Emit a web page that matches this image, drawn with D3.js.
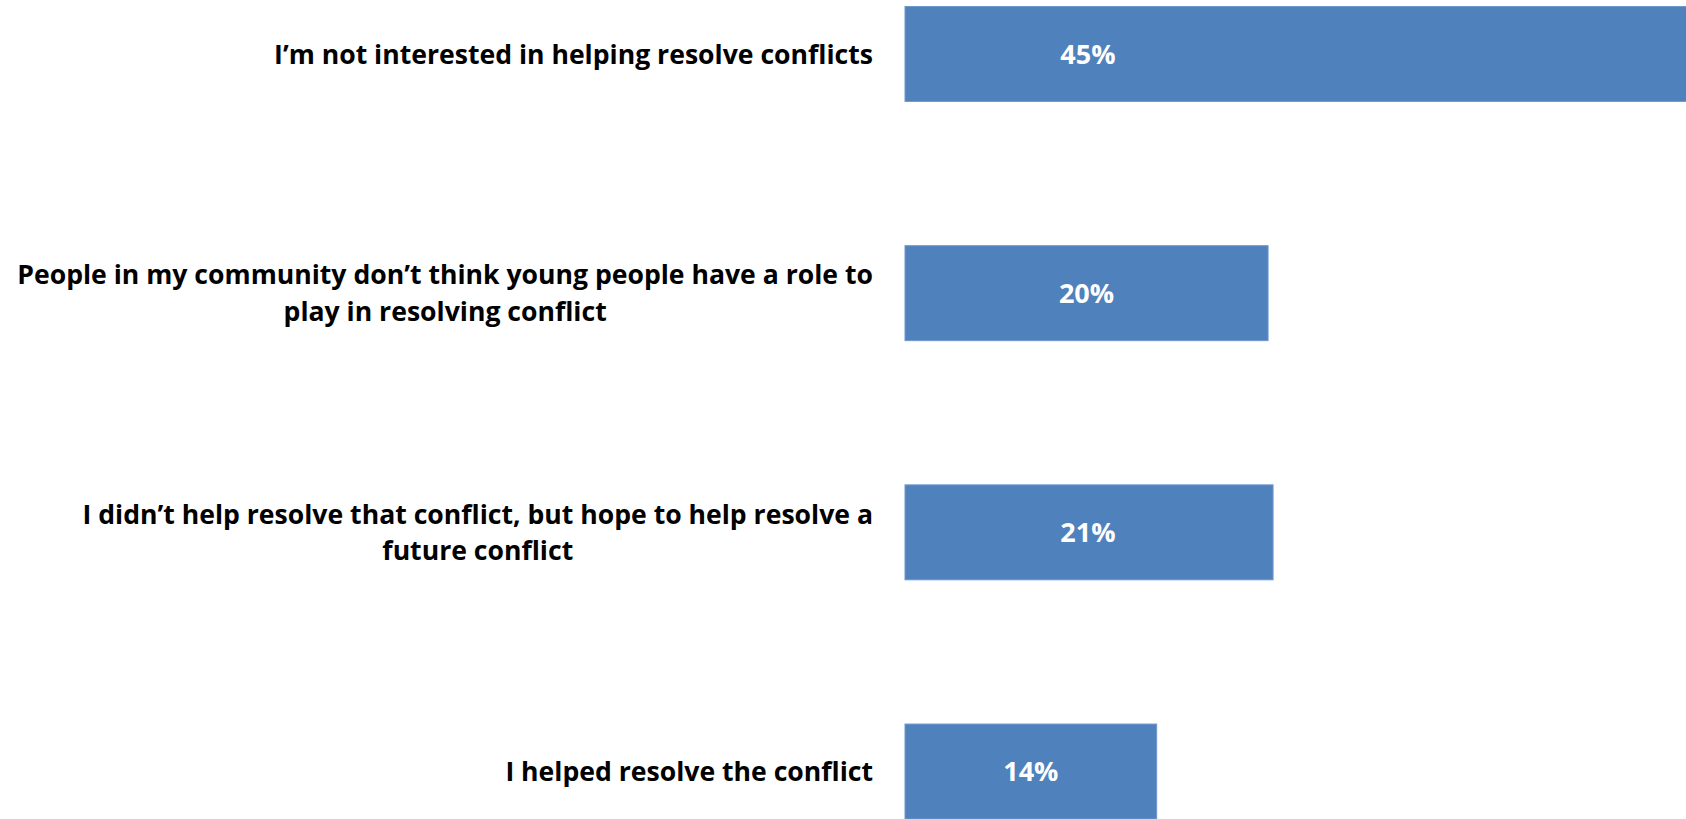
<!DOCTYPE html>
<html>
<head>
<meta charset="utf-8">
<script src="https://cdn.jsdelivr.net/npm/d3@7"></script>
<style>
  html, body { margin: 0; padding: 0; background: #ffffff; overflow: hidden; }
  svg { display: block; }
</style>
</head>
<body>
<svg id="chart" width="1686" height="819"></svg>
<script>
// ---- data ----
const categories = [
  "I’m not interested in helping resolve conflicts",
  "People in my community don’t think young people have a role to play in resolving conflict",
  "I didn’t help resolve that conflict, but hope to help resolve a future conflict",
  "I helped resolve the conflict"
];
const categoryLines = [
  ["I’m not interested in helping resolve conflicts"],
  ["People in my community don’t think young people have a role to", "play in resolving conflict"],
  ["I didn’t help resolve that conflict, but hope to help resolve a", "future conflict"],
  ["I helped resolve the conflict"]
];
const values = [45, 20.34, 20.62, 14.1];   // percent

// ---- layout ----
const W = 1686, H = 819;
const plotLeft = 905, plotTop = 6.5, plotBottom = 819;
const axisMax = 20.5;                 // visible plot-area maximum (%)
const pxPerPct = 17.85;
const labelRight = 873;
const barColor = "#4F81BD";
const fontFam = "'Open Sans', Lato, sans-serif";

const svg = d3.select("#chart");

const x = d3.scaleLinear()
  .domain([0, axisMax])
  .range([plotLeft, plotLeft + axisMax * pxPerPct]);

const y = d3.scaleBand()
  .domain(categories)
  .range([plotTop, plotBottom])
  .paddingInner(0.603)
  .paddingOuter(0);

const fmt = d3.format(".0f");
const rows = categories.map((c, i) => ({ cat: c, lines: categoryLines[i], v: values[i] }));

// bars
svg.append("g").selectAll("rect")
  .data(rows)
  .join("rect")
  .attr("x", x(0))
  .attr("y", d => y(d.cat))
  .attr("width", d => x(d.v) - x(0))
  .attr("height", y.bandwidth())
  .attr("fill", barColor)
  .attr("stroke", "#6f98cc")
  .attr("stroke-width", 1);

// value labels (centered in the visible part of the bar)
svg.append("g").selectAll("text")
  .data(rows)
  .join("text")
  .attr("x", d => (x(0) + x(Math.min(d.v, axisMax))) / 2)
  .attr("y", d => y(d.cat) + y.bandwidth() / 2)
  .attr("dy", "0.36em")
  .attr("text-anchor", "middle")
  .attr("font-family", fontFam)
  .attr("font-weight", "bold")
  .attr("font-size", 27)
  .attr("fill", "#ffffff")
  .text(d => fmt(d.v) + "%");

// category labels: block right-aligned at labelRight, lines centered within block
const lineH = 36.7;
const lg = svg.append("g");
rows.forEach(d => {
  const g = lg.append("g");
  const n = d.lines.length;
  const cy = y(d.cat) + y.bandwidth() / 2;
  const texts = d.lines.map((ln, k) => g.append("text")
    .attr("y", cy + (k - (n - 1) / 2) * lineH)
    .attr("dy", "0.36em")
    .attr("text-anchor", "middle")
    .attr("font-family", fontFam)
    .attr("font-weight", "bold")
    .attr("font-size", 26.6)
    .attr("fill", "#000000")
    .text(ln));
  const maxW = d3.max(texts, t => t.node().getComputedTextLength());
  texts.forEach(t => t.attr("x", labelRight - maxW / 2));
});
</script>
</body>
</html>
